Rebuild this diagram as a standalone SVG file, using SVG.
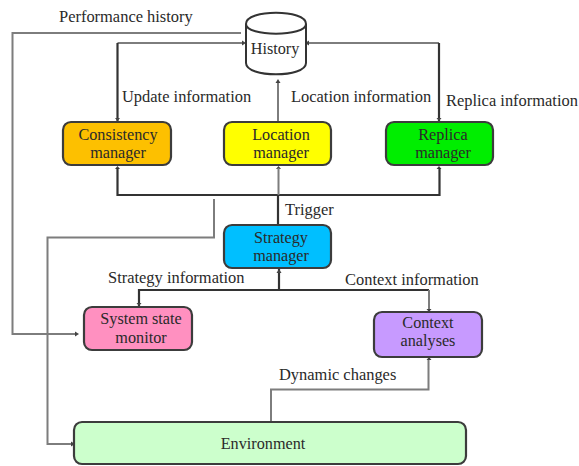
<svg xmlns="http://www.w3.org/2000/svg" width="579" height="466" viewBox="0 0 579 466">
<style>
text{font-family:"Liberation Serif","Times New Roman",serif;font-size:16.2px;fill:#2a2a2a}
#labels text{font-size:16.45px}
.c{text-anchor:middle}
.n{stroke-width:2.2;stroke:#3c3c3c}
.g{fill:none;stroke:#7d7d7d;stroke-width:2}
.d{fill:none;stroke:#333;stroke-width:2.2}
.a{fill:#444}
</style>
<rect width="579" height="466" fill="#fff"/>
<g id="connectors">
<path class="g" d="M241 33H12.500V334H76"/>
<path class="a" d="M79 334l-4-2.500v5z"/>
<path class="g" d="M244 43H117.500"/>
<path class="d" d="M117.500 43V121"/>
<path class="a" d="M246 43l-4-2.500v5zM117.500 121l-2.500-3h5zM117.500 166l-2.500 3h5z"/>
<path class="g" d="M278 82V121"/>
<path class="a" d="M278 79l-2.500 4h5zM278.500 166l-2.500 3h5z"/>
<path class="g" d="M306 43H439"/>
<path class="d" d="M439 43V121"/>
<path class="a" d="M305 43l4-2.500v5zM439 121l-2.500-3h5zM439 166l-2.500 3h5z"/>
<path class="d" d="M117.500 168V195H439.500V168"/>
<path class="g" d="M278.500 168V195"/>
<path class="d" d="M278 195V225"/>
<path class="g" d="M214 199V237.500H47.500V444H72"/>
<path class="a" d="M75 444l-4-2.500v5z"/>
<path class="d" d="M279 269V290"/>
<path class="a" d="M279 269l-2.500 4h5z"/>
<path class="d" d="M139 306V290H429"/>
<path class="g" d="M429 290V310"/>
<path class="a" d="M139 306l-2.500-3h5zM429 312l-2.500-3h5zM429 357l-2.500 3h5z"/>
<path class="g" d="M271 421V389.500H428.500V360"/>
</g>
<g id="history">
<path d="M246 24C246 9 306 9 306 24V63C306 78 246 78 246 63Z" fill="#fff" stroke="#333" stroke-width="2"/>
<path d="M246 24C246 37 306 37 306 24" fill="none" stroke="#333" stroke-width="2"/>
<text class="c" x="275" y="54">History</text>
</g>
<g id="consistency-manager">
<rect class="n" x="63" y="122" width="108" height="43" rx="8" fill="#fdc000"/>
<text class="c" x="118" y="140">Consistency</text><text class="c" x="118" y="158">manager</text>
</g>
<g id="location-manager">
<rect class="n" x="224" y="122" width="107" height="43" rx="8" fill="#ffff00"/>
<text class="c" x="281" y="140">Location</text><text class="c" x="281" y="158">manager</text>
</g>
<g id="replica-manager">
<rect class="n" x="386" y="122" width="107" height="43" rx="8" fill="#00ee00"/>
<text class="c" x="443" y="140">Replica</text><text class="c" x="443" y="158">manager</text>
</g>
<g id="strategy-manager">
<rect class="n" x="224" y="225" width="107" height="43" rx="8" fill="#00bfff"/>
<text class="c" x="281" y="243">Strategy</text><text class="c" x="281" y="261">manager</text>
</g>
<g id="system-state-monitor">
<rect class="n" x="84" y="307" width="108" height="43" rx="8" fill="#ff90c0"/>
<text class="c" x="141" y="324">System state</text><text class="c" x="141" y="343">monitor</text>
</g>
<g id="context-analyses">
<rect class="n" x="374" y="312" width="108" height="45" rx="8" fill="#c79aff"/>
<text class="c" x="428" y="328">Context</text><text class="c" x="428" y="346">analyses</text>
</g>
<g id="environment">
<rect class="n" x="74" y="422" width="392" height="42" rx="8" fill="#ccffcc"/>
<text class="c" x="263" y="449">Environment</text>
</g>
<g id="labels">
<text x="59" y="22">Performance history</text>
<text x="122" y="102">Update information</text>
<text x="291" y="102">Location information</text>
<text x="446" y="106">Replica information</text>
<text x="285" y="215">Trigger</text>
<text x="108" y="283">Strategy information</text>
<text x="345" y="285">Context information</text>
<text x="279" y="380">Dynamic changes</text>
</g>
</svg>
